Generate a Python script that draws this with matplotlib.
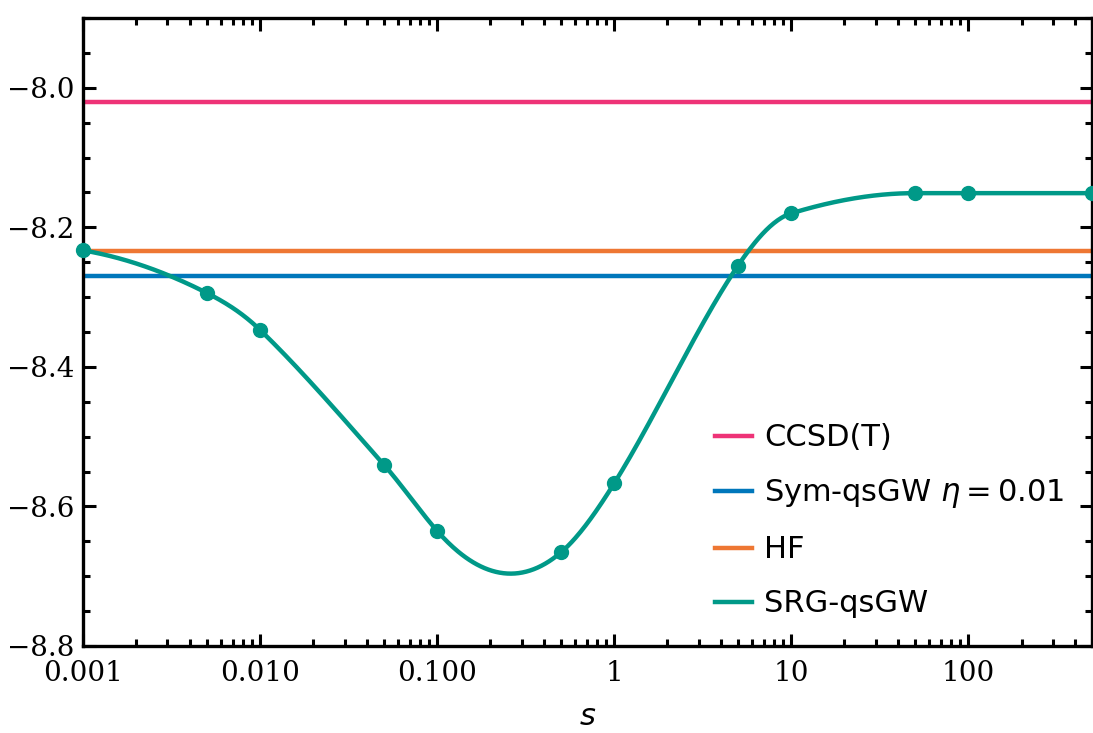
import numpy as np
import matplotlib
matplotlib.use("Agg")
import matplotlib.pyplot as plt
from matplotlib.ticker import MultipleLocator, FixedLocator, NullFormatter

# data
s_vals = [0.001, 0.005, 0.01, 0.05, 0.1, 0.5, 1, 5, 10, 50, 100, 500]
srg_energy = [-8.233, -8.294, -8.347, -8.540, -8.635, -8.666, -8.567,
              -8.255, -8.180, -8.151, -8.151, -8.151]
ccsdt_energy = -8.020
symqsgw_energy = -8.270
hf_energy = -8.234

xtick_vals = [0.001, 0.01, 0.1, 1, 10, 100]
xtick_labels = ["0.001", "0.010", "0.100", "1", "10", "100"]

c_ccsdt = "#EE3377"
c_sym = "#0077BB"
c_hf = "#EE7733"
c_srg = "#009988"


def akima(x, y, xn):
    # Akima spline through (x, y), evaluated at xn
    x = np.asarray(x, float)
    y = np.asarray(y, float)
    m = np.diff(y) / np.diff(x)
    m = np.concatenate([[3 * m[0] - 2 * m[1], 2 * m[0] - m[1]], m,
                        [2 * m[-1] - m[-2], 3 * m[-1] - 2 * m[-2]]])
    w = np.abs(np.diff(m))
    n = len(x)
    t = np.empty(n)
    for i in range(n):
        w1, w2 = w[i + 2], w[i]
        if w1 + w2 == 0:
            t[i] = 0.5 * (m[i + 1] + m[i + 2])
        else:
            t[i] = (w1 * m[i + 1] + w2 * m[i + 2]) / (w1 + w2)
    out = np.empty_like(xn)
    for k, xv in enumerate(xn):
        i = min(max(np.searchsorted(x, xv) - 1, 0), n - 2)
        h = x[i + 1] - x[i]
        u = (xv - x[i]) / h
        h00 = 2 * u**3 - 3 * u**2 + 1
        h10 = u**3 - 2 * u**2 + u
        h01 = -2 * u**3 + 3 * u**2
        h11 = u**3 - u**2
        out[k] = h00 * y[i] + h10 * h * t[i] + h01 * y[i + 1] + h11 * h * t[i + 1]
    return out


logs = np.log10(s_vals)
fine = np.linspace(logs[0], logs[-1], 800)
smooth = akima(logs, srg_energy, fine)

fig = plt.figure(figsize=(10.93, 7.33), dpi=100)
ax = fig.add_axes([83 / 1093, 87 / 733, 1009 / 1093, 628 / 733])

ax.axhline(ccsdt_energy, color=c_ccsdt, lw=3.2, label="CCSD(T)")
ax.axhline(symqsgw_energy, color=c_sym, lw=3.2, label=r"Sym-qsGW $\eta = 0.01$")
ax.axhline(hf_energy, color=c_hf, lw=3.2, label="HF")
ax.plot(10 ** fine, smooth, color=c_srg, lw=3.2, label="SRG-qsGW")
ax.plot(s_vals, srg_energy, "o", color=c_srg, ms=10, clip_on=False, zorder=5)

ax.set_xscale("log")
ax.set_xlim(0.001, 500)
ax.set_ylim(-8.8, -7.9)

ax.xaxis.set_major_locator(FixedLocator(xtick_vals))
ax.set_xticklabels(xtick_labels)
ax.xaxis.set_minor_formatter(NullFormatter())
ax.yaxis.set_major_locator(MultipleLocator(0.2))
ax.yaxis.set_minor_locator(MultipleLocator(0.05))

for lab in ax.get_xticklabels() + ax.get_yticklabels():
    lab.set_family("DejaVu Serif")
    lab.set_fontsize(20)

ax.tick_params(which="both", direction="in", top=True, right=True, width=2.2)
ax.tick_params(which="major", length=9)
ax.tick_params(axis="y", which="major", pad=6)
ax.tick_params(axis="x", which="major", pad=10)
ax.tick_params(which="minor", length=5)
for sp in ax.spines.values():
    sp.set_linewidth(2.4)

ax.set_xlabel("$s$", fontsize=22, labelpad=11)

ax.legend(loc="lower right", bbox_to_anchor=(1.0, 0.0), fontsize=22, frameon=False,
          handlelength=1.2, handletextpad=0.42, labelspacing=0.82)

fig.savefig("out.png", dpi=100)
